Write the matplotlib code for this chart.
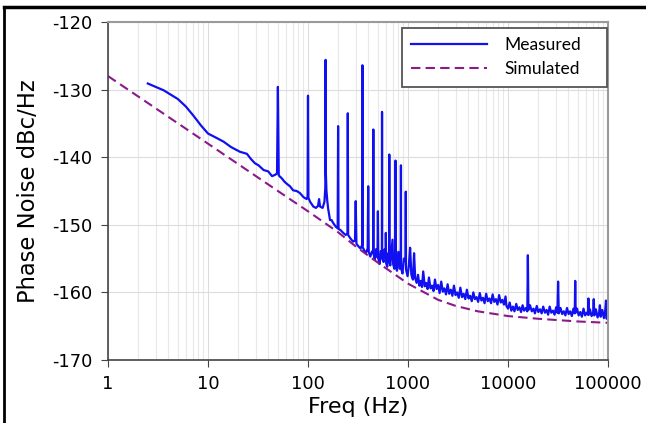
import matplotlib
matplotlib.use("Agg")
import matplotlib.pyplot as plt
from matplotlib.lines import Line2D
from matplotlib.patches import Rectangle
from matplotlib.ticker import FixedLocator, FixedFormatter, LogLocator

plt.rcParams['axes.unicode_minus'] = False

# Measured phase noise, (freq Hz, dBc/Hz)
meas_low = [(2.5, -129.1), (3.0, -129.6), (3.6, -130.1), (4.3, -130.8), (5.0, -131.4), (6.0, -132.5),
            (7.1, -133.8), (8.5, -135.3), (10, -136.5), (12, -137.1), (14.3, -137.7), (17, -138.5),
            (20.9, -139.2), (24.5, -139.5), (27, -140.3), (29.5, -140.9), (32, -141.2), (36, -141.9),
            (40, -142.1), (43.7, -142.8), (47, -142.6), (49, -142.4), (50, -129.6), (51, -142.7),
            (54.5, -143.1), (58, -143.6), (61, -143.9), (66, -144.3), (71, -144.9), (77, -145.0),
            (83, -145.3), (90, -145.9), (97, -146.2), (99, -145.8), (100, -130.9), (101, -146.0),
            (105, -146.6), (113, -147.3), (120, -147.5), (126, -147.2), (129, -146.2), (132, -147.3),
            (140, -147.5), (146, -146.6), (149, -144.5), (150, -125.6), (151, -142.5), (153, -145.0),
            (156, -146.5), (159, -147.6), (166, -149.3), (172, -149.3), (178, -149.7), (190, -150.3),
            (198, -150.5), (200, -135.4), (202, -150.6), (212, -150.8), (225, -151.2), (238, -151.5)]
meas_mid = [(248, -151.3), (250, -133.5), (252, -151.5), (265, -152.0), (282, -152.5), (295, -152.3),
            (300, -146.5), (305, -152.8), (320, -153.2), (335, -153.5), (348, -153.0), (350, -126.4),
            (352, -153.3), (365, -153.8), (378, -154.2), (395, -153.5), (400, -144.3), (405, -154.0),
            (420, -154.7), (435, -154.0), (448, -153.8), (450, -135.9), (452, -154.2), (465, -155.2),
            (480, -153.6), (495, -154.8), (500, -148.0), (505, -155.0), (520, -155.8), (535, -153.9),
            (548, -154.3), (550, -133.3), (552, -155.0), (570, -155.5), (585, -153.6), (598, -154.5),
            (600, -151.2), (605, -155.7), (620, -156.2), (635, -154.2), (648, -154.8), (650, -139.6),
            (652, -155.4), (665, -156.0), (685, -153.8), (700, -152.2), (710, -155.8), (730, -156.5),
            (745, -154.6), (750, -140.5), (755, -155.6), (775, -156.8), (800, -154.0), (825, -156.5),
            (848, -153.5), (850, -141.2), (852, -156.3), (880, -157.2), (910, -155.0), (945, -155.4),
            (950, -145.1), (955, -156.6), (990, -157.6), (1020, -156.0), (1050, -153.4), (1080, -157.4),
            (1120, -158.1), (1150, -154.2), (1180, -157.9), (1220, -158.6)]
meas_high = [(1260, -157.4), (1300, -159.0), (1340, -158.3), (1380, -159.2), (1420, -156.9), (1470, -159.1),
             (1520, -158.6), (1570, -159.5), (1620, -157.8), (1680, -159.4), (1740, -159.0), (1800, -159.8),
             (1860, -158.1), (1930, -159.5), (2000, -158.9), (2070, -160.1), (2150, -158.4), (2230, -159.9),
             (2310, -159.4), (2400, -160.3), (2490, -158.8), (2580, -160.2), (2680, -159.6), (2780, -160.5),
             (2880, -159.0), (2990, -160.4), (3100, -160.0), (3220, -160.8), (3340, -159.3), (3470, -160.7),
             (3600, -160.2), (3740, -161.0), (3880, -159.6), (4030, -160.9), (4180, -160.5), (4340, -161.3),
             (4500, -160.0), (4670, -161.0), (4850, -160.7), (5030, -161.4), (5220, -160.1), (5420, -161.2),
             (5620, -160.8), (5830, -161.6), (6050, -160.2), (6280, -161.3), (6520, -160.9), (6770, -161.6),
             (7020, -160.3), (7290, -161.4), (7570, -161.0), (7850, -161.8), (8150, -160.4), (8460, -161.5),
             (8780, -161.1), (9110, -161.8), (9450, -160.6), (9650, -162.0), (10000, -162.4), (10400, -161.5),
             (10800, -162.7), (11200, -162.1), (11600, -162.8), (12100, -161.7), (12500, -162.6), (13000, -162.2),
             (13500, -162.9), (14000, -161.9), (14500, -162.7), (15100, -162.3), (15600, -162.8), (15800, -154.5),
             (16000, -162.6), (16600, -161.9), (17300, -162.8), (18000, -162.4), (18600, -163.1), (19400, -162.0),
             (20100, -162.9), (20900, -162.5), (21700, -163.1), (22500, -162.1), (23400, -163.0), (24300, -162.6),
             (25200, -163.3), (26100, -162.1), (27100, -163.0), (28200, -162.7), (29200, -163.3), (30300, -162.2),
             (31200, -163.0), (31700, -158.4), (32200, -163.1), (33500, -162.3), (34800, -163.2), (36100, -162.8),
             (37500, -163.4), (38900, -162.3), (40400, -163.2), (41900, -162.8), (43500, -163.5), (45100, -162.4),
             (46500, -163.1), (47000, -158.3), (47500, -163.0), (49000, -162.4), (50900, -163.4), (52800, -162.9),
             (54800, -163.6), (56900, -162.4), (59000, -163.4), (61300, -163.0), (63000, -163.3), (63700, -160.9),
             (64400, -163.3), (66000, -162.5), (68500, -163.5), (71000, -163.0), (72000, -161.0), (73000, -163.4),
             (75700, -162.5), (78600, -163.7), (81500, -163.0), (83000, -161.9), (84500, -163.6), (87700, -162.6),
             (91000, -163.8), (93500, -162.9), (95500, -161.2), (97000, -163.9), (100000, -163.0)]

# Simulated phase noise
sim_freq = [1, 10, 50, 100, 200, 300, 500, 1000, 2000, 3000, 5000, 10000, 20000, 50000, 100000]
sim_db = [-128.0, -138.0, -145.0, -148.0, -151.1, -153.2, -155.6, -158.7, -161.1, -162.0, -162.8, -163.5, -163.9, -164.3, -164.5]

xticks = [1, 10, 100, 1000, 10000, 100000]
xtick_labels = ['1', '10', '100', '1000', '10000', '100000']
yticks = [-170, -160, -150, -140, -130, -120]

meas_freq, meas_db = zip(*(meas_low + meas_mid + meas_high))

fig = plt.figure(figsize=(6.46, 4.23), dpi=100)
ax = fig.add_axes([108 / 646, 63 / 423, 500 / 646, 338 / 423])

ax.plot(meas_freq, meas_db, color='#1010f0', lw=1.6, label='Measured')
ax.plot(sim_freq, sim_db, color='#8a1a8a', lw=1.5, ls=(0, (4.5, 2.5)), label='Simulated')

ax.set_xscale('log')
ax.set_xlim(1, 100000)
ax.set_ylim(-170, -120)
ax.xaxis.set_major_locator(FixedLocator(xticks))
ax.xaxis.set_major_formatter(FixedFormatter(xtick_labels))
ax.xaxis.set_minor_locator(LogLocator(base=10, subs=range(2, 10), numticks=20))
ax.set_yticks(yticks)
ax.tick_params(which='major', labelsize=12.8, length=5, color='#444444', pad=6)
ax.tick_params(which='minor', length=0)
ax.grid(which='major', color='#dcdcdc', lw=0.8)
ax.grid(which='minor', axis='x', color='#e8e8e8', lw=0.8)

for side in ['left', 'bottom']:
    ax.spines[side].set_color('#444444')
    ax.spines[side].set_linewidth(1.2)
for side in ['top', 'right']:
    ax.spines[side].set_color('#9a9a9a')
    ax.spines[side].set_linewidth(1.5)

ax.set_xlabel('Freq (Hz)', fontsize=16, labelpad=3)
ax.set_ylabel('Phase Noise dBc/Hz', fontsize=16.3, labelpad=9)

# legend box drawn separately so its padding matches the reference
ax.add_patch(Rectangle((0.588, 0.808), 0.41, 0.174, transform=ax.transAxes, facecolor='white',
                       edgecolor='#555555', lw=1.3, zorder=4))
leg = ax.legend(loc='upper left', bbox_to_anchor=(0.588, 0.982), borderaxespad=0, frameon=False,
                prop={'family': 'Lato', 'size': 12.5}, handlelength=4.4, handletextpad=1.0,
                labelspacing=0.5, borderpad=0.5)
leg.set_zorder(5)

# frame lines of the cropped page
fig.add_artist(Line2D([4 / 646, 4 / 646], [0, 1 - 7 / 423], color='black', lw=2))
fig.add_artist(Line2D([4 / 646, 1], [1 - 7 / 423, 1 - 7 / 423], color='black', lw=2.5))

fig.savefig('out.png', dpi=100)
